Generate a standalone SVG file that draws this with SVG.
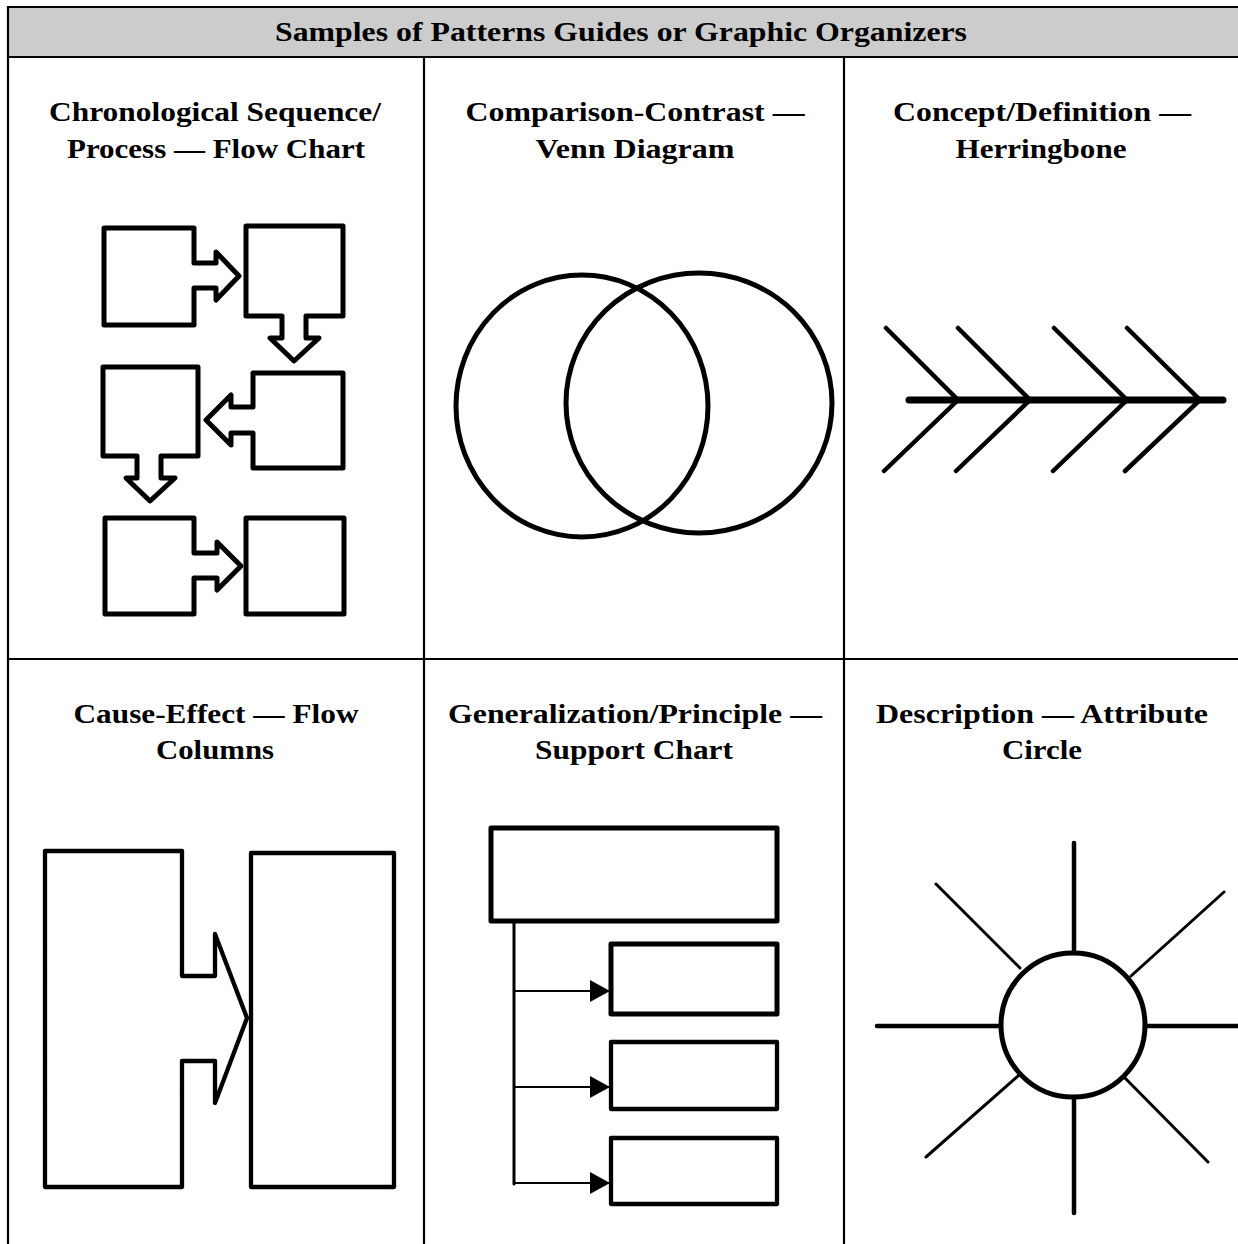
<svg xmlns="http://www.w3.org/2000/svg" width="1238" height="1244" viewBox="0 0 1238 1244">
<style>
.grid{fill:none;stroke:#000;stroke-width:2.2}
.sh{fill:none;stroke:#000;stroke-width:5;stroke-linejoin:round;stroke-linecap:round}
.sh4{fill:none;stroke:#000;stroke-width:4.3;stroke-linejoin:round;stroke-linecap:round}
.ln{stroke:#000;stroke-linecap:round;fill:none}
text{font-family:'Liberation Serif','Times New Roman',serif;font-weight:700;font-size:28px;text-anchor:middle;fill:#000}
</style>
<defs>
<marker id="ah" markerUnits="userSpaceOnUse" markerWidth="20" markerHeight="22" viewBox="0 0 20 22" refX="20" refY="11" orient="auto"><path d="M0,0 L20,11 L0,22 Z" fill="#000"/></marker>
</defs>
<rect width="1238" height="1244" fill="#fff"/>
<g id="table">
<rect x="8" y="7" width="1232" height="50" fill="#cccccc"/>
<path class="grid" d="M8,1244 V7 H1240 M8,57 H1240 M8,659 H1240 M424,57 V1244 M844,57 V1244"/>
<text x="621" y="41" textLength="692" lengthAdjust="spacingAndGlyphs">Samples of Patterns Guides or Graphic Organizers</text>
</g>
<g id="flow-chart">
<text x="215" y="121" textLength="332" lengthAdjust="spacingAndGlyphs">Chronological Sequence/</text>
<text x="216" y="158" textLength="298" lengthAdjust="spacingAndGlyphs">Process — Flow Chart</text>
<path class="sh" d="M104,228 H194 V263 H216 V252 L239,276 L216,300 V288 H194 V325 H104 Z"/>
<path class="sh" d="M246,226 H343 V316 H306 V338 H319 L294,361 L270,338 H282 V316 H246 Z"/>
<path class="sh" d="M253,373 H343 V468 H253 V433 H231 V445 L206,420 L231,395 V407 H253 Z"/>
<path class="sh" d="M103,367 H198 V456 H161 V478 H175 L150,501 L126,478 H137 V456 H103 Z"/>
<path class="sh" d="M105,518 H194 V553 H217 V542 L241,566 L217,590 V578 H194 V614 H105 Z"/>
<rect class="sh" x="246" y="518" width="98" height="96"/>
</g>
<g id="venn">
<text x="635" y="121" textLength="339" lengthAdjust="spacingAndGlyphs">Comparison-Contrast —</text>
<text x="635" y="158" textLength="199" lengthAdjust="spacingAndGlyphs">Venn Diagram</text>
<ellipse class="sh" cx="582" cy="406" rx="126" ry="131"/>
<ellipse class="sh" cx="699" cy="403" rx="133" ry="130"/>
</g>
<g id="herringbone">
<text x="1042" y="121" textLength="298" lengthAdjust="spacingAndGlyphs">Concept/Definition —</text>
<text x="1041" y="158" textLength="171" lengthAdjust="spacingAndGlyphs">Herringbone</text>
<path class="ln" stroke-width="7" d="M909,400 H1223"/>
<path class="ln" stroke-width="4.5" d="M886,328 L958,400 L884,471 M958,328 L1030,400 L956,471 M1054,328 L1127,400 L1053,471 M1127,328 L1200,400 L1125,471"/>
</g>
<g id="flow-columns">
<text x="216" y="723" textLength="285" lengthAdjust="spacingAndGlyphs">Cause-Effect — Flow</text>
<text x="215" y="759" textLength="118" lengthAdjust="spacingAndGlyphs">Columns</text>
<path class="sh4" d="M45,851 H182 V976 H215 V934 L247,1018 L215,1103 V1061 H182 V1187 H45 Z"/>
<rect class="sh4" x="251" y="853" width="143" height="334"/>
</g>
<g id="support-chart">
<text x="635" y="723" textLength="374" lengthAdjust="spacingAndGlyphs">Generalization/Principle —</text>
<text x="634" y="759" textLength="198" lengthAdjust="spacingAndGlyphs">Support Chart</text>
<rect class="sh" x="491" y="828" width="286" height="93" stroke-width="5.5"/>
<rect class="sh" x="611" y="944" width="166" height="70" stroke-width="5.5"/>
<rect class="sh4" x="611" y="1042" width="166" height="67" stroke-width="3.8"/>
<rect class="sh4" x="611" y="1138" width="166" height="66" stroke-width="3.8"/>
</g>
<g id="connectors">
<path class="ln" stroke-width="3" d="M514,921 V1184"/>
<path class="ln" stroke-width="2" stroke-linecap="butt" marker-end="url(#ah)" d="M514,991 H610"/>
<path class="ln" stroke-width="2" stroke-linecap="butt" marker-end="url(#ah)" d="M514,1087 H610"/>
<path class="ln" stroke-width="2" stroke-linecap="butt" marker-end="url(#ah)" d="M514,1183 H610"/>
</g>
<g id="attribute-circle">
<text x="1042" y="723" textLength="332" lengthAdjust="spacingAndGlyphs">Description — Attribute</text>
<text x="1042" y="759" textLength="80" lengthAdjust="spacingAndGlyphs">Circle</text>
<circle class="sh" cx="1073" cy="1025" r="72"/>
<path class="ln" stroke-width="4.5" d="M1074,843 V953 M1074,1097 V1213 M877,1026 H1001 M1145,1026 H1240"/>
<path class="ln" stroke-width="3" d="M936,884 L1020,968 M1224,892 L1131,976 M926,1157 L1019,1075 M1208,1162 L1124,1077"/>
</g>
</svg>
